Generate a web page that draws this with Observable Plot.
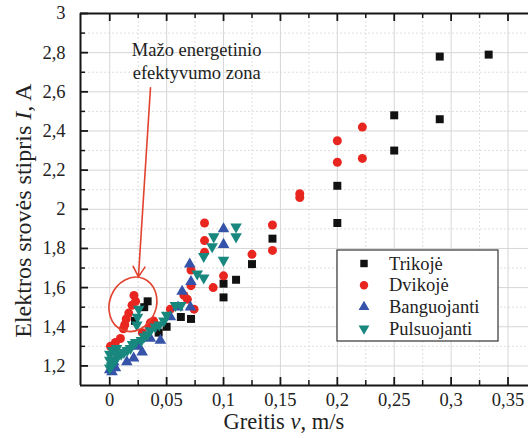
<!DOCTYPE html>
<html><head><meta charset="utf-8">
<script src="https://cdn.jsdelivr.net/npm/d3@7"></script>
<script src="https://cdn.jsdelivr.net/npm/@observablehq/plot@0.6"></script>
<style>
html,body{margin:0;padding:0;background:#fff;overflow:hidden}
svg, svg text { font-family: "Liberation Serif", "Times New Roman", serif !important; }
</style></head><body><div id="chart"></div>
<script>
// ---- data ----
const seriesNames = ["Trikojė", "Dvikojė", "Banguojanti", "Pulsuojanti"];
const seriesColors = ["#111111", "#e8261f", "#3553a8", "#18877e"];

const trikoje = [
  [0.333, 2.79], [0.29, 2.78], [0.25, 2.48], [0.29, 2.46], [0.25, 2.30],
  [0.2, 2.12], [0.2, 1.93], [0.143, 1.85], [0.125, 1.72], [0.111, 1.64],
  [0.1, 1.62], [0.1, 1.55], [0.0714, 1.44], [0.0625, 1.45], [0.05, 1.40],
  [0.043, 1.37], [0.0333, 1.53], [0.0303, 1.50], [0.0222, 1.43]
];
const dvikoje = [
  [0.222, 2.42], [0.2, 2.35], [0.2, 2.24], [0.222, 2.26], [0.167, 2.08],
  [0.167, 2.06], [0.143, 1.92], [0.143, 1.79], [0.125, 1.77], [0.0833, 1.93],
  [0.0833, 1.84], [0.0833, 1.78], [0.1, 1.66], [0.0909, 1.60], [0.0714, 1.69],
  [0.0714, 1.61], [0.0652, 1.56], [0.0682, 1.54], [0.0741, 1.49], [0.0533, 1.49],
  [0.0385, 1.43], [0.0357, 1.42], [0.0400, 1.41], [0.0345, 1.40], [0.0286, 1.37],
  [0.0213, 1.56], [0.0227, 1.53], [0.0196, 1.51], [0.0167, 1.47], [0.0145, 1.44],
  [0.0132, 1.41], [0.0120, 1.39], [0.0094, 1.34], [0.0050, 1.32], [0.0006, 1.30]
];
const banguojanti = [
  [0.1, 1.90], [0.1, 1.82], [0.0703, 1.72], [0.0714, 1.63], [0.0636, 1.58],
  [0.0709, 1.50], [0.0533, 1.45], [0.0445, 1.33], [0.0357, 1.34], [0.0285, 1.27],
  [0.021, 1.24], [0.015, 1.22], [0.0035, 1.22], [0.005, 1.19], [0.0, 1.18],
  [0.002, 1.17], [0.025, 1.30], [0.06, 1.50]
];
const pulsuojanti = [
  [0.111, 1.91], [0.111, 1.86], [0.0914, 1.86], [0.09, 1.81], [0.1, 1.74],
  [0.0826, 1.76], [0.0769, 1.67], [0.0826, 1.65], [0.0625, 1.51], [0.0577, 1.51],
  [0.05, 1.46], [0.0476, 1.43], [0.0435, 1.41], [0.04, 1.40], [0.0357, 1.38],
  [0.0333, 1.36], [0.0303, 1.35], [0.0278, 1.33], [0.0255, 1.49], [0.0244, 1.45],
  [0.0238, 1.41], [0.0227, 1.32], [0.02, 1.31], [0.0182, 1.29], [0.0154, 1.28],
  [0.0125, 1.27], [0.01, 1.26], [0.0071, 1.25], [0.005, 1.23], [0.003, 1.22],
  [0.0015, 1.20], [0.0, 1.19], [0.0, 1.26], [0.0025, 1.28], [0.006, 1.29], [0.0, 1.23]
];

const xTicks = [0, 0.05, 0.1, 0.15, 0.2, 0.25, 0.3, 0.35];
const xMinorTicks = [0.025, 0.075, 0.125, 0.175, 0.225, 0.275, 0.325];
const yTicks = [1.2, 1.4, 1.6, 1.8, 2, 2.2, 2.4, 2.6, 2.8, 3];
const yMinorTicks = [1.3, 1.5, 1.7, 1.9, 2.1, 2.3, 2.5, 2.7, 2.9];
const xDomain = [-0.0257, 0.368];
const yDomain = [1.1, 3];

const xLabelParts = ["Greitis ", "v", ", m/s"];
const yLabelParts = ["Elektros srovės stipris ", "I", ", A"];
const xLabelAt = 0.1535;
const yLabelAt = 1.99;

const noteText = [
  {text: "Mažo energetinio", x: 0.0764, y: 2.813},
  {text: "efektyvumo zona", x: 0.0764, y: 2.695}
];
const noteArrow = [{x1: 0.0358, y1: 2.62, x2: 0.0252, y2: 1.655}];
const noteEllipse = {x: 0.0208, y: 1.512, rx: 0.0205, ry: 0.142, angle: 22};

// ---- layout ----
const W = 528, H = 438, mL = 80, mR = 0, mT = 13, mB = 53;
const innerW = W - mL - mR, innerH = H - mT - mB;
const serif = "'Liberation Serif', 'Times New Roman', serif";
const fmt = d => String(d).replace(".", ",");
const toObj = arr => arr.map(([x, y]) => ({x, y}));

const triangleDown = {
  draw(context, size) {
    const s3 = Math.sqrt(3);
    const y = -Math.sqrt(size / (s3 * 3));
    context.moveTo(0, -y * 2);
    context.lineTo(-s3 * y, y);
    context.lineTo(s3 * y, y);
    context.closePath();
  }
};
const symbols = ["square", "circle", "triangle", triangleDown];
const d3symbols = [d3.symbolSquare, d3.symbolCircle, d3.symbolTriangle, triangleDown];
const radii = [4.5, 4.5, 4.3, 4.3];
const seriesData = [trikoje, dvikoje, banguojanti, pulsuojanti];

const gridColor = "#d6d6d6";
const axisColor = "#161616";

const marks = [
  Plot.ruleX(xMinorTicks, {stroke: "#dedede", strokeDasharray: "2,2"}),
  Plot.ruleY(yMinorTicks, {stroke: "#dedede", strokeDasharray: "2,2"}),
  Plot.ruleX(xTicks, {stroke: gridColor}),
  Plot.ruleY(yTicks.filter(d => d < yDomain[1]), {stroke: gridColor}),
  // inward ticks
  Plot.ruleX(xTicks, {insetTop: innerH - 8, stroke: axisColor, strokeWidth: 1.8}),
  Plot.ruleX(xMinorTicks, {insetTop: innerH - 5, stroke: axisColor, strokeWidth: 1.5}),
  Plot.ruleX(xTicks, {insetBottom: innerH - 8, stroke: axisColor, strokeWidth: 1.8}),
  Plot.ruleX(xMinorTicks, {insetBottom: innerH - 5, stroke: axisColor, strokeWidth: 1.5}),
  Plot.ruleY(yTicks, {insetRight: innerW - 8, stroke: axisColor, strokeWidth: 1.8}),
  Plot.ruleY(yMinorTicks, {insetRight: innerW - 5, stroke: axisColor, strokeWidth: 1.5}),
  // frame
  Plot.ruleX([xDomain[0]], {stroke: axisColor, strokeWidth: 2}),
  Plot.ruleY([yDomain[0]], {stroke: axisColor, strokeWidth: 2}),
  Plot.ruleY([yDomain[1]], {stroke: axisColor, strokeWidth: 2}),
  // data
  ...seriesData.map((s, i) => Plot.dot(toObj(s), {
    x: "x", y: "y", symbol: symbols[i], r: radii[i], fill: seriesColors[i], stroke: "none"
  })),
  // annotation
  Plot.text(noteText, {x: "x", y: "y", text: "text", fontSize: 18.5, fill: "#222", lineAnchor: "middle", fontFamily: serif}),
  Plot.arrow(noteArrow, {x1: "x1", y1: "y1", x2: "x2", y2: "y2", stroke: "#e2432f", strokeWidth: 1.6, headLength: 11}),
  (index, scales) => {
    const {x, y} = scales;
    const e = noteEllipse;
    const cx = x(e.x), cy = y(e.y);
    const rx = Math.abs(x(e.x + e.rx) - cx), ry = Math.abs(y(e.y + e.ry) - cy);
    return d3.create("svg:ellipse")
      .attr("cx", cx).attr("cy", cy).attr("rx", rx).attr("ry", ry)
      .attr("transform", `rotate(${e.angle},${cx},${cy})`)
      .attr("fill", "none").attr("stroke", "#e2432f").attr("stroke-width", 1.6)
      .node();
  },
  // axis titles
  (index, scales) => {
    const {x, y} = scales;
    const g = d3.create("svg:g").attr("fill", "#222").attr("font-family", serif);
    const tx = g.append("text").attr("x", x(xLabelAt)).attr("y", H - 9)
      .attr("text-anchor", "middle").attr("font-size", 22.5);
    xLabelParts.forEach((p, i) => tx.append("tspan").attr("font-style", i === 1 ? "italic" : null).text(p));
    const ty = g.append("text").attr("transform", `translate(31,${y(yLabelAt)}) rotate(-90)`)
      .attr("text-anchor", "middle").attr("font-size", 24);
    yLabelParts.forEach((p, i) => ty.append("tspan").attr("font-style", i === 1 ? "italic" : null).text(p));
    return g.node();
  },
  // legend
  (index, scales, values, dims) => {
    const bw = 161, bh = 91;
    const right = dims.width - dims.marginRight - 30;
    const bottom = dims.height - dims.marginBottom - 44;
    const g = d3.create("svg:g").attr("transform", `translate(${right - bw},${bottom - bh})`);
    g.append("rect").attr("width", bw).attr("height", bh).attr("fill", "#fff").attr("stroke", "#333").attr("stroke-width", 1.2);
    seriesNames.forEach((name, i) => {
      const cy = 13.5 + i * 21.7;
      g.append("path")
        .attr("transform", `translate(27,${cy})`)
        .attr("d", d3.symbol(d3symbols[i], Math.PI * (i < 2 ? 4.2 : 4.0) ** 2)())
        .attr("fill", seriesColors[i]);
      g.append("text").attr("x", 52).attr("y", cy).attr("dy", "0.34em")
        .attr("text-anchor", "start").attr("font-family", serif)
        .attr("font-size", 18.5).attr("fill", "#222").text(name);
    });
    return g.node();
  }
];

const chart = Plot.plot({
  width: W, height: H,
  marginLeft: mL, marginRight: mR, marginTop: mT, marginBottom: mB,
  style: {fontFamily: serif, fontSize: "18.5px", color: "#222", background: "#fff"},
  x: {domain: xDomain, ticks: xTicks, tickFormat: fmt, tickSize: 0, tickPadding: 7, label: null},
  y: {domain: yDomain, ticks: yTicks, tickFormat: fmt, tickSize: 0, tickPadding: 15, label: null},
  marks
});
document.getElementById("chart").appendChild(chart);
</script>
</body></html>
